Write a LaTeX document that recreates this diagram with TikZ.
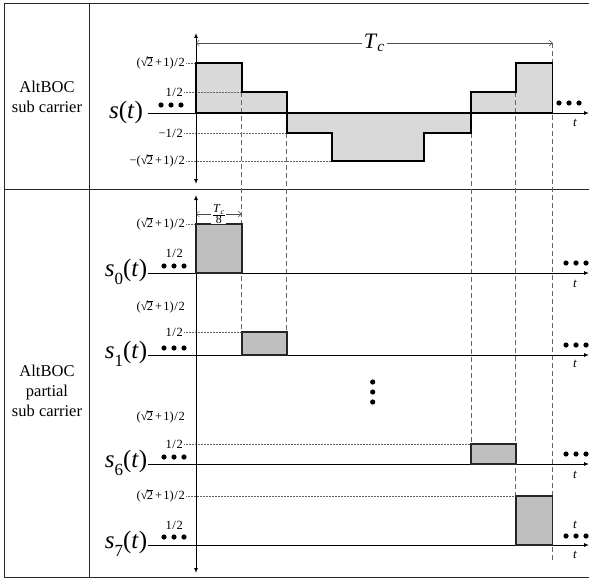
\documentclass[tikz,border=0pt]{standalone}
\usepackage{fontspec}
\setmainfont{Liberation Serif}
\usepackage{tikz}
\usetikzlibrary{arrows.meta}
\definecolor{sigfill}{RGB}{217,217,217}
\definecolor{boxfill}{RGB}{191,191,191}
\tikzstyle{frame} = [line width=0.8pt, draw=black!85]
\tikzstyle{axis} = [line width=0.9pt, -{Latex[length=5pt,width=4pt]}]
\tikzstyle{axisboth} = [line width=0.9pt, {Latex[length=5pt,width=4pt]}-{Latex[length=5pt,width=4pt]}]
\tikzstyle{signal} = [line width=1.8pt, line join=miter]
\tikzstyle{pulse} = [line width=1.6pt, fill=boxfill, draw=black!85]
\tikzstyle{guide} = [dash pattern=on 5pt off 3pt, draw=black!60, line width=0.6pt]
\tikzstyle{level} = [densely dotted, draw=black!60, line width=0.5pt]
\tikzstyle{lvl} = [anchor=east, inner sep=1pt, font=\fontsize{12.5}{13}\selectfont]
\tikzstyle{sig} = [font=\fontsize{25}{27}\selectfont]
\tikzstyle{rowlbl} = [align=center, font=\fontsize{16.5}{20}\selectfont]
\tikzstyle{tlbl} = [font=\fontsize{13}{14}\selectfont\itshape]
\tikzstyle{span} = [line width=0.5pt, draw=black!70, {Straight Barb[length=3pt]}-{Straight Barb[length=3pt]}]
\newcommand{\rtwo}{(√\kern-0.05em$\overline{\mbox{2}}$\kern0.15em+\kern0.1em1)\kern0.05em/\kern0.05em2}
\newcommand{\sk}[1]{\textit{s}\raisebox{-0.3em}{\fontsize{17}{17}\selectfont #1}(\textit{t})}
\newcommand{\dotrow}[2]{\foreach \dx in {0,10,20} \fill (#1+\dx,#2) circle (2.6pt);}
\newcommand{\altboc}{(196,113) -- (196,63) -- (241.7,63) -- (241.7,92) -- (286.7,92) -- (286.7,133) -- (332,133) -- (332,161) -- (424,161) -- (424,133) -- (471,133) -- (471,92) -- (515.7,92) -- (515.7,63) -- (552.5,63) -- (552.5,113) -- cycle}

\begin{document}
\begin{tikzpicture}[x=1pt,y=-1pt]
    \useasboundingbox (0,0) rectangle (589,578);

    % Table
    \draw[frame] (589,3) -- (4,3) -- (4,577) -- (589,577);
    \draw[frame] (89.5,3) -- (89.5,577);
    \draw[frame] (4,189.5) -- (589,189.5);
    \node[rowlbl] (rowsub) at (47,97) {AltBOC\\sub carrier};
    \node[rowlbl] (rowpart) at (47,391) {AltBOC\\partial\\sub carrier};

    % Sub carrier
    \fill[sigfill] \altboc;
    \draw[guide] (241.7,92) -- (241.7,332);
    \draw[guide] (286.7,133) -- (286.7,332);
    \draw[guide] (471,133) -- (471,444);
    \draw[guide] (515.7,92) -- (515.7,496);
    \draw[guide] (552.5,43) -- (552.5,563);

    \node[lvl] (uA) at (186,63) {\rtwo};
    \node[lvl] (uB) at (184,92) {1\kern0.05em/\kern0.05em2};
    \node[lvl] (uC) at (184,133) {−1\kern0.05em/\kern0.05em2};
    \node[lvl] (uD) at (186,161) {−\rtwo};
    \draw[level] (uA.east) -- (196,63);
    \draw[level] (uB.east) -- (241.7,92);
    \draw[level] (uC.east) -- (286.7,133);
    \draw[level] (uD.east) -- (332,161);

    \draw[axis] (148,113) -- (589,113);
    \draw[signal] \altboc;
    \draw[axisboth] (196,184) -- (196,33);
    \draw[span] (196,43) -- (552.5,43) node[midway, fill=white, inner sep=2pt, font=\fontsize{22}{23}\selectfont] (tc) {\textit{T}\textsubscript{\textit{c}}};

    \node[sig] (s) at (126,112) {\textit{s}(\textit{t})};
    \dotrow{161}{105}
    \dotrow{559}{103}
    \node[tlbl] (t) at (575,123) {t};

    % Partial sub carriers
    \node[lvl] (aA) at (186,224) {\rtwo};
    \node[lvl] (aB) at (184,253) {1\kern0.05em/\kern0.05em2};
    \node[lvl] (bA) at (186,307) {\rtwo};
    \node[lvl] (bB) at (184,332) {1\kern0.05em/\kern0.05em2};
    \node[lvl] (gA) at (186,417) {\rtwo};
    \node[lvl] (gB) at (184,444) {1\kern0.05em/\kern0.05em2};
    \node[lvl] (hA) at (186,496) {\rtwo};
    \node[lvl] (hB) at (184,525) {1\kern0.05em/\kern0.05em2};
    \draw[level] (aA.east) -- (196,224);
    \draw[level] (bB.east) -- (241.7,332);
    \draw[level] (gB.east) -- (471,444);
    \draw[level] (hA.east) -- (515.7,496);

    \draw[axis] (148,273) -- (589,273);
    \draw[axis] (148,355) -- (589,355);
    \draw[axis] (148,464) -- (589,464);
    \draw[axis] (148,545) -- (589,545);
    \draw[axisboth] (196,573) -- (196,195);

    \draw[pulse] (196,273) rectangle (241.7,224);
    \draw[pulse] (241.7,355) rectangle (286.7,332);
    \draw[pulse] (471,464) rectangle (515.7,444);
    \draw[pulse] (515.7,545) rectangle (552.5,496);

    \draw[span] (196,214) -- (241.7,214) node[midway, fill=white, inner sep=0.5pt, font=\fontsize{12}{13}\selectfont] (tc8) {$\frac{\mbox{\textit{T}\textsubscript{\textit{c}}}}{\mbox{8}}$};

    \node[sig] (s0) at (126,272) {\sk{0}};
    \node[sig] (s1) at (126,354) {\sk{1}};
    \node[sig] (s6) at (126,463) {\sk{6}};
    \node[sig] (s7) at (126,544) {\sk{7}};

    \dotrow{164}{266}
    \dotrow{164}{348}
    \dotrow{164}{457}
    \dotrow{164}{537}
    \dotrow{566}{263}
    \dotrow{566}{345}
    \dotrow{566}{454}
    \dotrow{566}{536}
    \foreach \y in {382,392,402}
        \fill (372.7,\y) circle (2.6pt);

    \node[tlbl] (t0) at (575,284) {t};
    \node[tlbl] (t1) at (575,364) {t};
    \node[tlbl] (t6) at (575,475) {t};
    \node[tlbl] (t7) at (575,555) {t};
    \node[tlbl] (t7top) at (575,525) {t};
\end{tikzpicture}
\end{document}
